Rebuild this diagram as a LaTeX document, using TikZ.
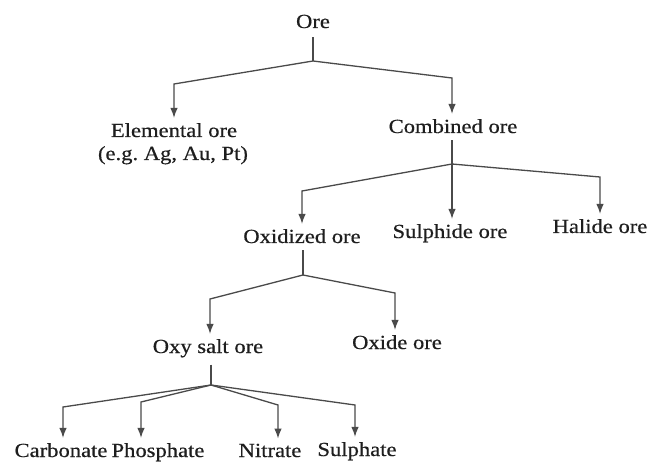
\documentclass[tikz,border=0pt]{standalone}
\usepackage{fontspec}
\setmainfont{Liberation Serif}[FakeStretch=1.13,FakeBold=0.5]
\usetikzlibrary{arrows.meta}
\definecolor{ink}{HTML}{1E1E1E}
\definecolor{wire}{HTML}{4A4A4A}
\begin{document}
\begin{tikzpicture}[x=1pt,y=-1pt,
  lbl/.style={anchor=base,inner sep=0pt,text=ink,font=\fontsize{20}{24}\selectfont},
  wireline/.style={draw=wire,line width=1.3pt},
  arr/.style={wireline,-{Latex[length=10pt,width=7.5pt]}}]
\useasboundingbox[fill=white] (0,0) rectangle (650,462);
% nodes
\node[lbl] (ore) at (313,28) {Ore};
\node[lbl] (elem) at (174,137) {Elemental ore};
\node[lbl] (eg) at (173,160) {(e.g.\ Ag, Au, Pt)};
\node[lbl] (comb) at (453,133) {Combined ore};
\node[lbl] (oxid) at (302,243) {Oxidized ore};
\node[lbl] (sulph) at (450,238) {Sulphide ore};
\node[lbl] (hal) at (600,233) {Halide ore};
\node[lbl] (oxy) at (208,353) {Oxy salt ore};
\node[lbl] (oxide) at (397,349) {Oxide ore};
\node[lbl] (carb) at (61,457) {Carbonate};
\node[lbl] (phos) at (158,457) {Phosphate};
\node[lbl] (nitr) at (270,457) {Nitrate};
\node[lbl] (sulf) at (357,456) {Sulphate};
% branch points and elbows
\coordinate (b1) at (313,61);
\coordinate (e11) at (174,84);
\coordinate (e12) at (452,78);
\coordinate (b2) at (452,164);
\coordinate (e21) at (302,191);
\coordinate (e23) at (600,177);
\coordinate (b3) at (303,275);
\coordinate (e31) at (210,299);
\coordinate (e32) at (395,293);
\coordinate (b4) at (211,385);
\coordinate (e41) at (63,407);
\coordinate (e42) at (141,402);
\coordinate (e43) at (278,405);
\coordinate (e44) at (355,405);
% connectors
\path[wireline] ([yshift=-9pt]ore.south) -- (b1);
\draw[arr] (b1) -- (e11) -- ([yshift=5pt]e11 |- elem.north);
\draw[arr] (b1) -- (e12) -- ([yshift=5pt]e12 |- comb.north);
\path[wireline] ([yshift=-7pt]comb.south -| b2) -- (b2);
\draw[arr] (b2) -- ([yshift=5pt]b2 |- sulph.north);
\draw[arr] (b2) -- (e21) -- ([yshift=5pt]e21 |- oxid.north);
\draw[arr] (b2) -- (e23) -- ([yshift=5pt]e23 |- hal.north);
\path[wireline] ([yshift=-7pt]oxid.south -| b3) -- (b3);
\draw[arr] (b3) -- (e31) -- ([yshift=5pt]e31 |- oxy.north);
\draw[arr] (b3) -- (e32) -- ([yshift=5pt]e32 |- oxide.north);
\path[wireline] ([yshift=-7pt]oxy.south -| b4) -- (b4);
\draw[arr] (b4) -- (e41) -- ([yshift=5pt]e41 |- carb.north);
\draw[arr] (b4) -- (e42) -- ([yshift=5pt]e42 |- phos.north);
\draw[arr] (b4) -- (e43) -- ([yshift=5pt]e43 |- nitr.north);
\draw[arr] (b4) -- (e44) -- ([yshift=5pt]e44 |- sulf.north);
\end{tikzpicture}
\end{document}
